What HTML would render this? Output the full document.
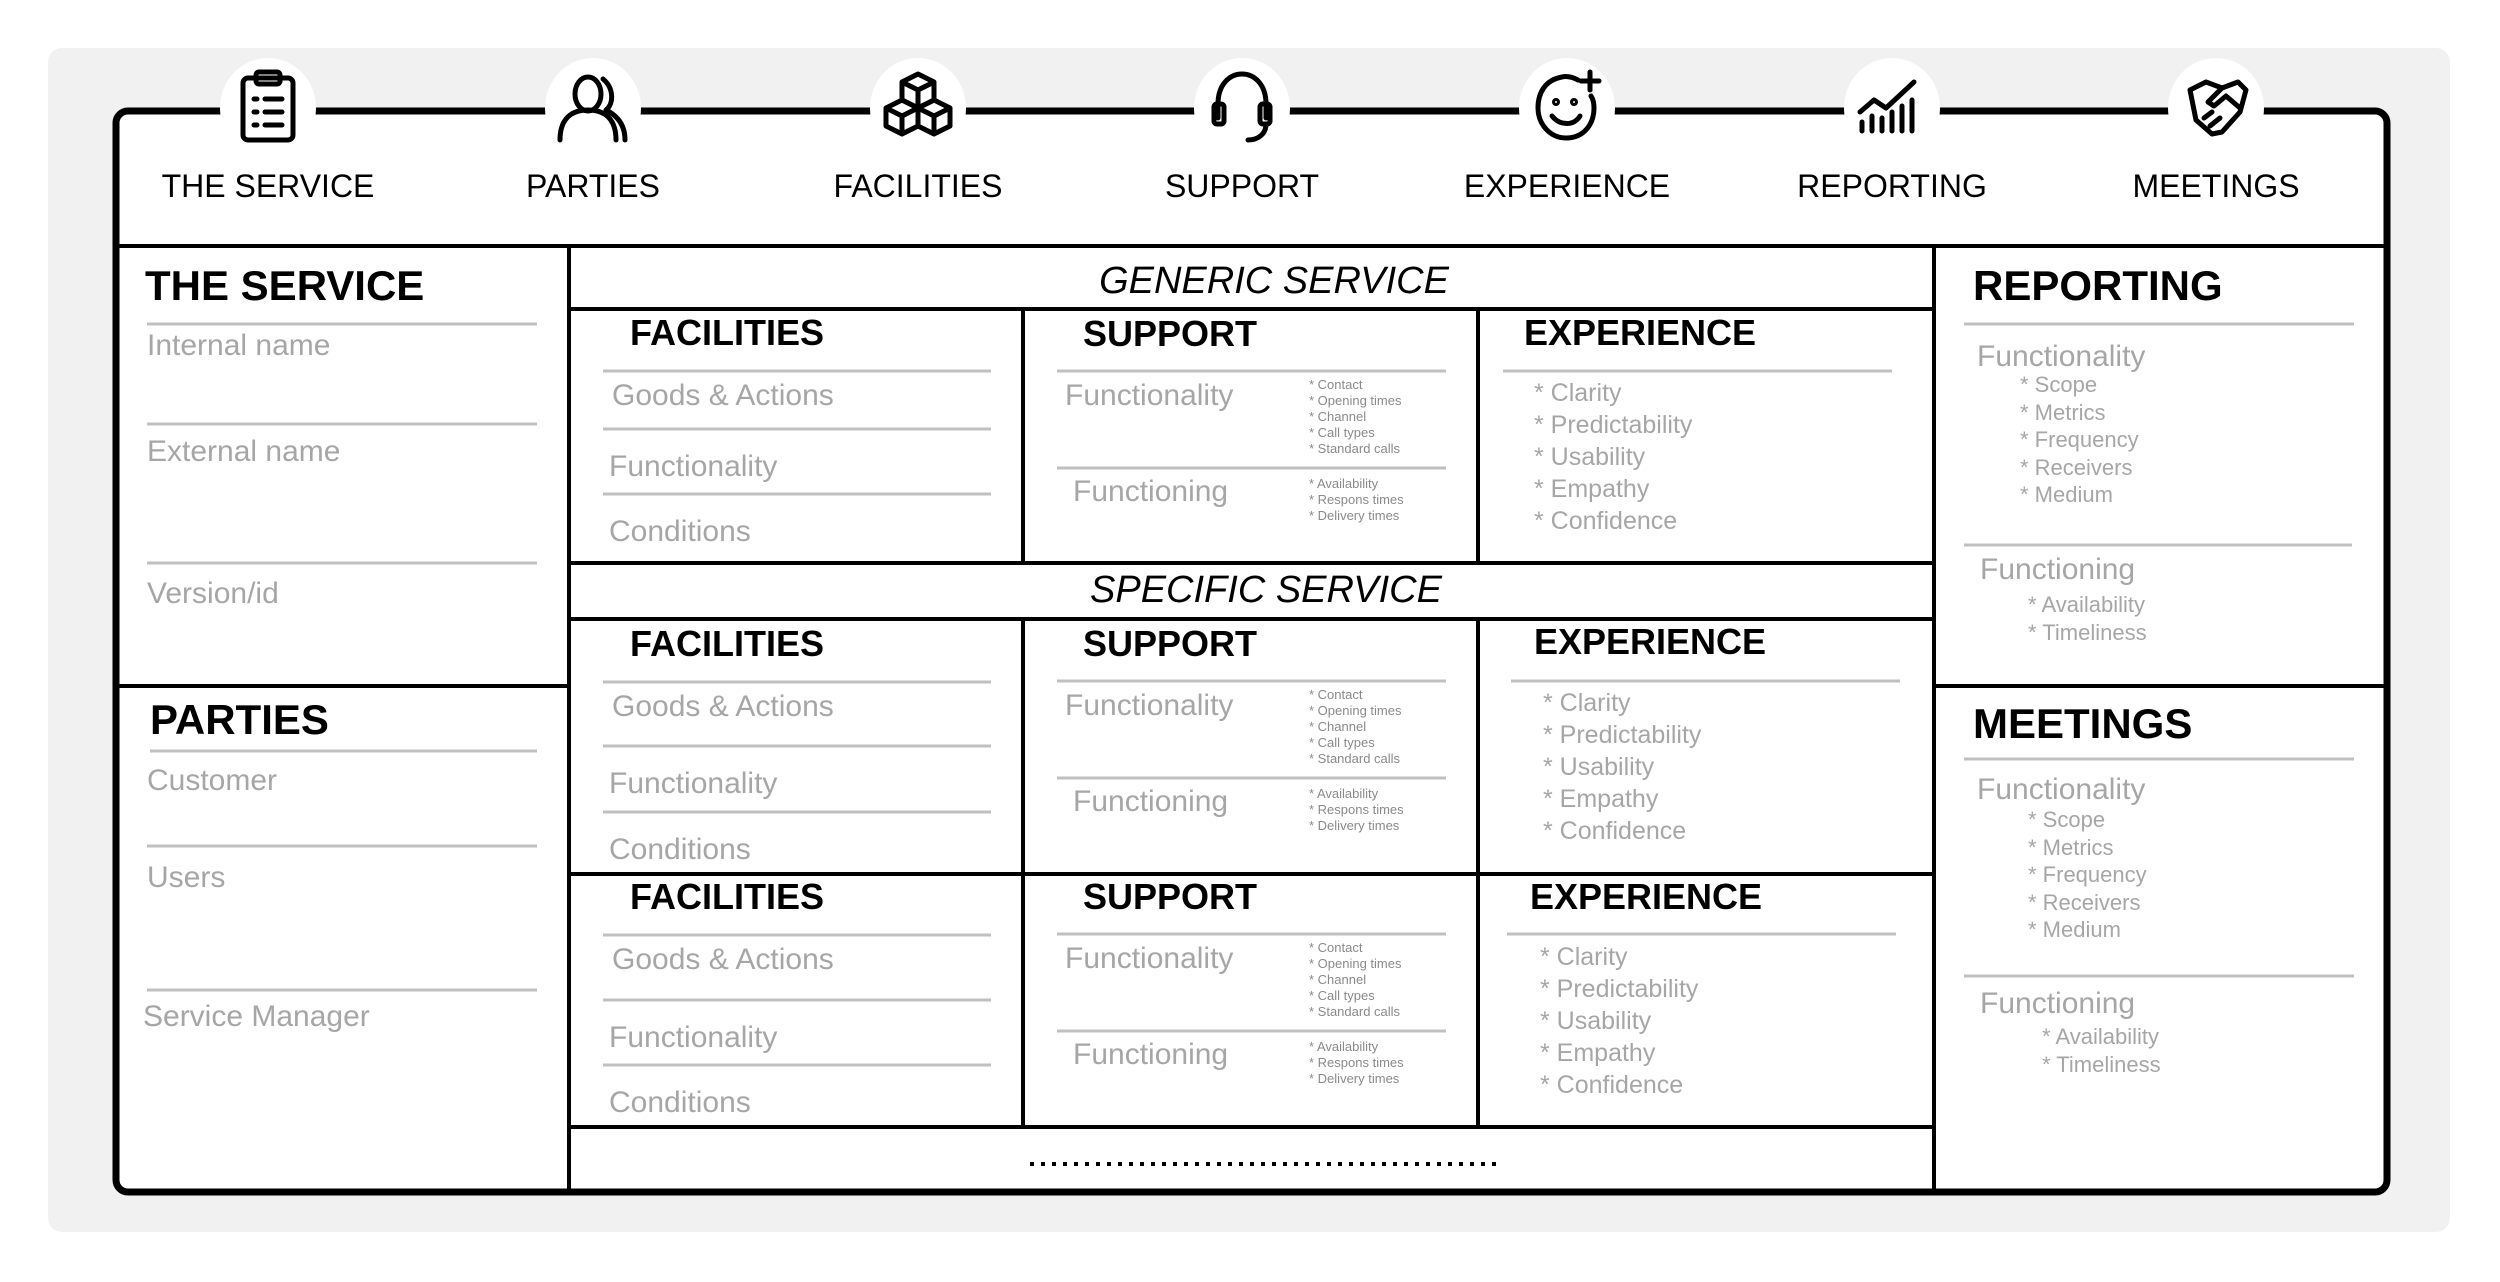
<!DOCTYPE html>
<html><head><meta charset="utf-8">
<style>
body{margin:0;width:2500px;height:1282px;background:#fff;position:relative;overflow:hidden;font-family:"Liberation Sans",Arial,sans-serif}
.t{position:absolute;white-space:nowrap;line-height:1}
.h{font-weight:bold;color:#000;font-size:36px}
.g{color:#a6a6a6;font-size:30px;margin-top:3px}
.s{color:#8a8a8a;font-size:13px;line-height:16px}
.e{color:#a6a6a6;font-size:25px;line-height:32px}
.r{color:#a6a6a6;font-size:22px;line-height:27.6px}
.c{transform:translateX(-50%)}
.lab{font-size:32px;color:#000}
</style></head><body>
<svg width="2500" height="1282" style="position:absolute;left:0;top:0">
<rect x="48" y="48" width="2402" height="1184" rx="14" fill="#f1f1f1"/>
<rect x="116" y="111" width="2271" height="1081" rx="12" fill="#fff" stroke="#000" stroke-width="7"/>
<g stroke="#000" stroke-width="4">
<line x1="116" y1="246" x2="2387" y2="246"/>
<line x1="569" y1="246" x2="569" y2="1192"/>
<line x1="1934" y1="246" x2="1934" y2="1192"/>
<line x1="116" y1="686" x2="569" y2="686"/>
<line x1="1934" y1="686" x2="2387" y2="686"/>
<line x1="569" y1="309" x2="1934" y2="309"/>
<line x1="569" y1="563" x2="1934" y2="563"/>
<line x1="569" y1="619" x2="1934" y2="619"/>
<line x1="569" y1="874" x2="1934" y2="874"/>
<line x1="569" y1="1127" x2="1934" y2="1127"/>
<line x1="1023" y1="309" x2="1023" y2="563"/><line x1="1478" y1="309" x2="1478" y2="563"/>
<line x1="1023" y1="619" x2="1023" y2="1127"/><line x1="1478" y1="619" x2="1478" y2="1127"/>
</g>
<line x1="1030" y1="1164" x2="1500" y2="1164" stroke="#000" stroke-width="4" stroke-dasharray="4 7"/>
<g stroke="#c0c0c0" stroke-width="3">
<line x1="147" y1="324" x2="537" y2="324"/><line x1="147" y1="424" x2="537" y2="424"/><line x1="147" y1="563" x2="537" y2="563"/>
<line x1="150" y1="751" x2="537" y2="751"/><line x1="147" y1="846" x2="537" y2="846"/><line x1="147" y1="990" x2="537" y2="990"/>
<line x1="1964" y1="324" x2="2354" y2="324"/><line x1="1964" y1="545" x2="2352" y2="545"/>
<line x1="1964" y1="759" x2="2354" y2="759"/><line x1="1964" y1="976" x2="2354" y2="976"/>
<line x1="603" y1="371" x2="991" y2="371"/><line x1="603" y1="429" x2="991" y2="429"/><line x1="603" y1="494" x2="991" y2="494"/>
<line x1="1057" y1="371" x2="1446" y2="371"/><line x1="1057" y1="468" x2="1446" y2="468"/>
<line x1="1503" y1="371" x2="1892" y2="371"/>
<line x1="603" y1="682" x2="991" y2="682"/><line x1="603" y1="746" x2="991" y2="746"/><line x1="603" y1="812" x2="991" y2="812"/>
<line x1="1057" y1="681" x2="1446" y2="681"/><line x1="1057" y1="778" x2="1446" y2="778"/>
<line x1="1511" y1="681" x2="1900" y2="681"/>
<line x1="603" y1="935" x2="991" y2="935"/><line x1="603" y1="1000" x2="991" y2="1000"/><line x1="603" y1="1065" x2="991" y2="1065"/>
<line x1="1057" y1="934" x2="1446" y2="934"/><line x1="1057" y1="1031" x2="1446" y2="1031"/>
<line x1="1507" y1="934" x2="1896" y2="934"/>
</g>
<g fill="#fff">
<ellipse cx="268" cy="108" rx="48" ry="50"/><ellipse cx="593" cy="108" rx="48" ry="50"/><ellipse cx="918" cy="108" rx="48" ry="50"/>
<ellipse cx="1242" cy="108" rx="48" ry="50"/><ellipse cx="1567" cy="108" rx="48" ry="50"/><ellipse cx="1892" cy="108" rx="48" ry="50"/><ellipse cx="2216" cy="108" rx="48" ry="50"/>
</g>
<g fill="none" stroke="#000" stroke-width="5" stroke-linecap="round" stroke-linejoin="round">
<rect x="243" y="78" width="50" height="62" rx="5"/><rect x="256" y="72" width="24" height="12" rx="3"/>
<line x1="254" y1="99" x2="257" y2="99"/><line x1="265" y1="99" x2="282" y2="99"/>
<line x1="254" y1="112" x2="257" y2="112"/><line x1="265" y1="112" x2="282" y2="112"/>
<line x1="254" y1="125" x2="257" y2="125"/><line x1="265" y1="125" x2="282" y2="125"/>
<ellipse cx="588" cy="94" rx="13" ry="17"/><path d="M560 140 C560 118 572 110 588 110 C604 110 616 118 616 140"/>
<path d="M603 79 C614 88 614 104 606 110 C618 116 625 126 625 140"/>
<path d="M918 74 L934 82 L934 100 L918 108 L902 100 L902 82 Z M902 82 L918 90 L934 82 M918 90 L918 108"/>
<path d="M902 100 L918 108 L918 126 L902 134 L886 126 L886 108 Z M886 108 L902 116 L918 108 M902 116 L902 134"/>
<path d="M934 100 L950 108 L950 126 L934 134 L918 126 L918 108 Z M918 108 L934 116 L950 108 M934 116 L934 134"/>
<path d="M1218 118 L1218 104 C1218 84 1230 74 1242 74 C1254 74 1266 84 1266 104 L1266 118"/>
<rect x="1214" y="104" width="10" height="20" rx="3"/><rect x="1260" y="104" width="10" height="20" rx="3"/>
<path d="M1266 124 C1266 134 1258 140 1248 140"/>
<path d="M1578 80 C1572 77 1566 76 1562 77 C1545 80 1538 93 1538 108 C1538 124 1550 138 1566 138 C1584 138 1594 124 1594 108 C1594 103 1593 99 1591 96"/>
<line x1="1590" y1="72" x2="1590" y2="90"/><line x1="1581" y1="81" x2="1599" y2="81"/>
<circle cx="1556" cy="102" r="1.5"/><circle cx="1574" cy="102" r="1.5"/>
<path d="M1552 116 C1560 126 1574 126 1580 116"/>
<line x1="1862" y1="122" x2="1862" y2="131"/><line x1="1872" y1="116" x2="1872" y2="131"/><line x1="1882" y1="118" x2="1882" y2="131"/>
<line x1="1892" y1="112" x2="1892" y2="131"/><line x1="1902" y1="106" x2="1902" y2="131"/><line x1="1912" y1="100" x2="1912" y2="131"/>
<path d="M1860 112 L1874 100 L1886 108 L1914 82"/>
<path d="M2190 90 L2206 82 L2222 88 L2238 82 L2246 90 L2240 112 L2222 132 L2212 134 L2196 120 Z"/>
<path d="M2222 88 L2208 102 L2214 106 L2226 96 L2240 108"/>
<path d="M2204 118 L2212 112 M2210 126 L2220 118"/>
</g>
</svg>

<div class="t lab c" style="left:268px;top:170px">THE SERVICE</div>
<div class="t lab c" style="left:593px;top:170px">PARTIES</div>
<div class="t lab c" style="left:918px;top:170px">FACILITIES</div>
<div class="t lab c" style="left:1242px;top:170px">SUPPORT</div>
<div class="t lab c" style="left:1567px;top:170px">EXPERIENCE</div>
<div class="t lab c" style="left:1892px;top:170px">REPORTING</div>
<div class="t lab c" style="left:2216px;top:170px">MEETINGS</div>

<div class="t h" style="left:145px;top:265px;font-size:42px">THE SERVICE</div>
<div class="t g" style="left:147px;top:328px">Internal name</div>
<div class="t g" style="left:147px;top:434px">External name</div>
<div class="t g" style="left:147px;top:576px">Version/id</div>
<div class="t h" style="left:150px;top:699px;font-size:42px">PARTIES</div>
<div class="t g" style="left:147px;top:763px">Customer</div>
<div class="t g" style="left:147px;top:860px">Users</div>
<div class="t g" style="left:143px;top:999px">Service Manager</div>

<div class="t h" style="left:1973px;top:265px;font-size:42px">REPORTING</div>
<div class="t g" style="left:1977px;top:339px">Functionality</div>
<div class="t r" style="left:2020px;top:371px">* Scope<br>* Metrics<br>* Frequency<br>* Receivers<br>* Medium</div>
<div class="t g" style="left:1980px;top:552px">Functioning</div>
<div class="t r" style="left:2028px;top:591px">* Availability<br>* Timeliness</div>
<div class="t h" style="left:1973px;top:703px;font-size:42px">MEETINGS</div>
<div class="t g" style="left:1977px;top:772px">Functionality</div>
<div class="t r" style="left:2028px;top:806px">* Scope<br>* Metrics<br>* Frequency<br>* Receivers<br>* Medium</div>
<div class="t g" style="left:1980px;top:986px">Functioning</div>
<div class="t r" style="left:2042px;top:1023px">* Availability<br>* Timeliness</div>

<div class="t c" style="left:1274px;top:262px;font-size:38px;font-style:italic">GENERIC SERVICE</div>
<div class="t c" style="left:1266px;top:571px;font-size:38px;font-style:italic">SPECIFIC SERVICE</div>

<div class="t h" style="left:630px;top:315px">FACILITIES</div>
<div class="t g" style="left:612px;top:378px">Goods &amp; Actions</div>
<div class="t g" style="left:609px;top:449px">Functionality</div>
<div class="t g" style="left:609px;top:514px">Conditions</div>
<div class="t h" style="left:1083px;top:316px">SUPPORT</div>
<div class="t g" style="left:1065px;top:378px">Functionality</div>
<div class="t s" style="left:1309px;top:377px">* Contact<br>* Opening times<br>* Channel<br>* Call types<br>* Standard calls</div>
<div class="t g" style="left:1073px;top:474px">Functioning</div>
<div class="t s" style="left:1309px;top:476px">* Availability<br>* Respons times<br>* Delivery times</div>
<div class="t h" style="left:1524px;top:315px">EXPERIENCE</div>
<div class="t e" style="left:1534px;top:377px">* Clarity<br>* Predictability<br>* Usability<br>* Empathy<br>* Confidence</div>

<div class="t h" style="left:630px;top:626px">FACILITIES</div>
<div class="t g" style="left:612px;top:689px">Goods &amp; Actions</div>
<div class="t g" style="left:609px;top:766px">Functionality</div>
<div class="t g" style="left:609px;top:832px">Conditions</div>
<div class="t h" style="left:1083px;top:626px">SUPPORT</div>
<div class="t g" style="left:1065px;top:688px">Functionality</div>
<div class="t s" style="left:1309px;top:687px">* Contact<br>* Opening times<br>* Channel<br>* Call types<br>* Standard calls</div>
<div class="t g" style="left:1073px;top:784px">Functioning</div>
<div class="t s" style="left:1309px;top:786px">* Availability<br>* Respons times<br>* Delivery times</div>
<div class="t h" style="left:1534px;top:624px">EXPERIENCE</div>
<div class="t e" style="left:1543px;top:687px">* Clarity<br>* Predictability<br>* Usability<br>* Empathy<br>* Confidence</div>

<div class="t h" style="left:630px;top:879px">FACILITIES</div>
<div class="t g" style="left:612px;top:942px">Goods &amp; Actions</div>
<div class="t g" style="left:609px;top:1020px">Functionality</div>
<div class="t g" style="left:609px;top:1085px">Conditions</div>
<div class="t h" style="left:1083px;top:879px">SUPPORT</div>
<div class="t g" style="left:1065px;top:941px">Functionality</div>
<div class="t s" style="left:1309px;top:940px">* Contact<br>* Opening times<br>* Channel<br>* Call types<br>* Standard calls</div>
<div class="t g" style="left:1073px;top:1037px">Functioning</div>
<div class="t s" style="left:1309px;top:1039px">* Availability<br>* Respons times<br>* Delivery times</div>
<div class="t h" style="left:1530px;top:879px">EXPERIENCE</div>
<div class="t e" style="left:1540px;top:941px">* Clarity<br>* Predictability<br>* Usability<br>* Empathy<br>* Confidence</div>
</body></html>
